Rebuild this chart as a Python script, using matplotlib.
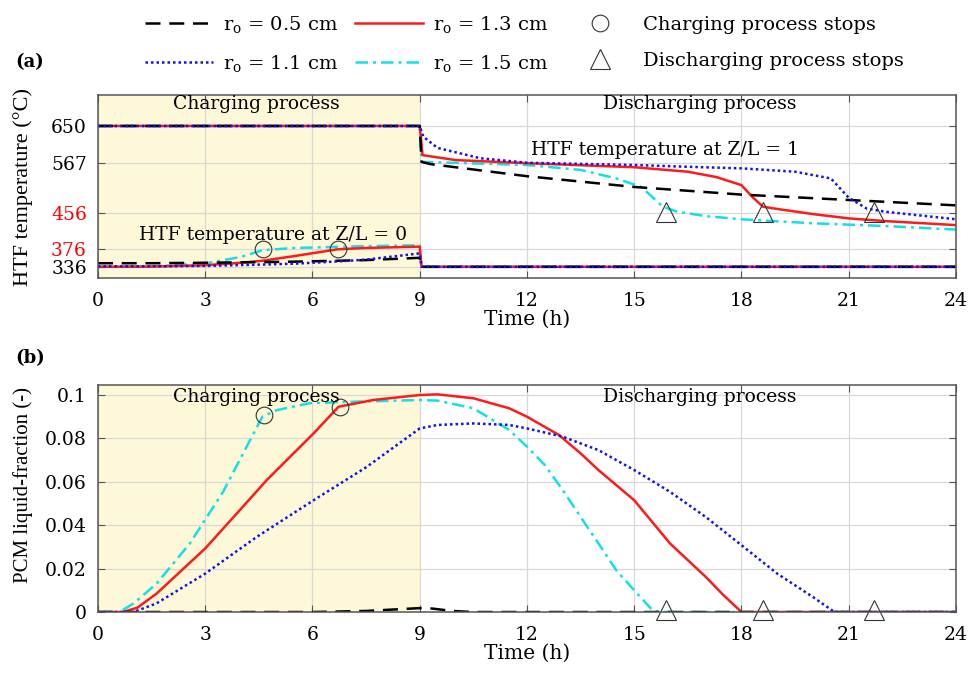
import matplotlib
matplotlib.use("Agg")
import matplotlib.pyplot as plt
from matplotlib.lines import Line2D

# fonts: wide serif for horizontal text, times-like for the y labels
plt.rcParams["font.family"] = ["DejaVu Serif"]
plt.rcParams["mathtext.fontset"] = "dejavuserif"

# series labels / styles
RADII = ["0.5", "1.1", "1.3", "1.5"]
COLOURS = {"0.5": "black", "1.1": "#1010f0", "1.3": "#ff1a1a", "1.5": "#12e0e6"}
STYLES = {"0.5": (0, (6, 3.5)), "1.1": (0, (1, 1.2)), "1.3": "-", "1.5": (0, (5, 2, 1.2, 2))}
DRAW_ORDER = ["1.5", "1.3", "0.5", "1.1"]

# (a) HTF temperature
T_INLET_CHARGE = 650
T_INLET_DISCHARGE = 336
CHG_TIME = [0, 1.5, 3, 4, 4.6, 5.5, 6.7, 7.5, 9]
CHG_TEMP = {
    "0.5": [344, 344, 345, 346, 346.5, 347.5, 349.5, 351, 356],
    "1.1": [337, 337, 338, 340, 341, 343, 348, 352, 366],
    "1.3": [336, 336.5, 339.5, 345, 349.5, 360, 375, 378, 381],
    "1.5": [336, 337, 343.5, 358, 373, 378, 380.5, 382, 384],
}
DIS_TIME = {
    "0.5": [9, 9.05, 9.3, 12, 15, 18, 21, 24],
    "1.1": [9, 9.1, 9.5, 10.7, 12, 15, 16.5, 18, 19.5, 20.5, 21, 21.5, 22, 24],
    "1.3": [9, 9.08, 10, 12, 15, 16.5, 17.3, 18, 18.3, 18.6, 19, 20, 21, 22, 24],
    "1.5": [9, 9.05, 12, 13.5, 14.5, 15.2, 15.5, 15.8, 16.2, 17, 18, 20, 22, 24],
}
DIS_TEMP = {
    "0.5": [650, 570, 565, 538, 514, 497, 485, 473],
    "1.1": [650, 626, 601, 578, 568, 563, 559, 555.5, 548, 533, 490, 466, 459, 442],
    "1.3": [650, 585, 574, 567, 558, 548, 536, 518, 492, 470, 465, 453.5, 444, 438, 429],
    "1.5": [650, 570, 563, 552, 533, 514, 492, 470, 459, 449, 442, 433, 427, 419],
}
TOP_CIRCLE_T = [4.62, 6.72]
TOP_CIRCLE_Y = [375, 375]
TOP_TRI_T = [15.9, 18.6, 21.7]
TOP_TRI_Y = [459, 459, 459]
TOP_YTICKS = [336, 376, 456, 567, 650]
RED_TICKS = [376, 456]

# (b) PCM liquid fraction
PCM_TIME = {
    "0.5": [0, 6, 7.5, 9, 9.35, 9.9, 10.5, 24],
    "1.1": [0, 1.0, 1.64, 3, 4.44, 6.03, 7.52, 9, 9.5, 10.5, 11.5, 12, 13, 14, 15, 16,
            17, 18, 19, 20, 20.6, 24],
    "1.3": [0, 0.7, 1.1, 1.64, 3, 3.97, 4.72, 5.37, 6.03, 6.73, 7.7, 9, 9.5, 10.5, 11.5,
            12, 12.9, 13.5, 14, 15, 16, 17, 17.5, 18, 24],
    "1.5": [0, 0.6, 1.0, 1.64, 2.57, 3.5, 4.06, 4.6, 5.0, 5.9, 7.2, 9, 9.5, 10.5, 11.5,
            12, 12.5, 13, 13.5, 14, 14.5, 15, 15.5, 15.7, 24],
}
PCM_FRAC = {
    "0.5": [0, 0, 0.0005, 0.0018, 0.0016, 0.0005, 0, 0],
    "1.1": [0, 0, 0.004, 0.0177, 0.0346, 0.0515, 0.0669, 0.0846, 0.0862, 0.0869, 0.0862,
            0.0846, 0.0808, 0.0746, 0.0654, 0.0554, 0.0438, 0.0308, 0.0177, 0.0069, 0, 0],
    "1.3": [0, 0, 0.002, 0.0085, 0.0293, 0.047, 0.0608, 0.0715, 0.0823, 0.0946, 0.0977,
            0.1, 0.1003, 0.0985, 0.0939, 0.090, 0.0815, 0.0731, 0.0654, 0.0515, 0.0316,
            0.0162, 0.0077, 0, 0],
    "1.5": [0, 0, 0.004, 0.0131, 0.0316, 0.0554, 0.0731, 0.090, 0.093, 0.0962, 0.0969,
            0.0977, 0.0974, 0.0939, 0.0839, 0.0762, 0.0677, 0.0562, 0.0438, 0.0316,
            0.0192, 0.010, 0.001, 0, 0],
}
BOT_CIRCLE_T = [4.64, 6.77]
BOT_CIRCLE_Y = [0.0907, 0.0946]
BOT_TRI_T = [15.9, 18.6, 21.7]
BOT_TRI_Y = [0.0008, 0.0008, 0.0008]
BOT_YTICKS = [0, 0.02, 0.04, 0.06, 0.08, 0.1]
BOT_YTICKLABELS = ["0", "0.02", "0.04", "0.06", "0.08", "0.1"]

XTICKS = list(range(0, 25, 3))
SHADE = "#fdf9d8"
GRID = "#d8d8d8"
SPINE = "#555555"
LW = 1.8


def style_axes(ax):
    ax.set_xlim(0, 24)
    ax.set_xticks(XTICKS)
    ax.axvspan(0, 9, color=SHADE, zorder=0, lw=0)
    ax.grid(True, color=GRID, lw=0.9, zorder=0.5)
    ax.set_axisbelow(True)
    ax.tick_params(direction="in", length=5, top=True, right=True, color=SPINE,
                   labelsize=13.5, pad=8)
    ax.tick_params(axis="x", pad=10)
    for sp in ax.spines.values():
        sp.set_color(SPINE)
        sp.set_linewidth(1.1)
    ax.set_xlabel("Time (h)", fontsize=14.5, labelpad=0)


fig = plt.figure(figsize=(9.68, 6.73), dpi=100)
ax1 = fig.add_axes([0.1012, 0.5869, 0.8864, 0.2719])
ax2 = fig.add_axes([0.1012, 0.0906, 0.8864, 0.3373])

# ---- (a) ----
style_axes(ax1)
for r in DRAW_ORDER:
    kw = dict(color=COLOURS[r], ls=STYLES[r], lw=LW)
    # upper line: charging inlet then discharging outlet
    ax1.plot([0] + DIS_TIME[r], [T_INLET_CHARGE] + DIS_TEMP[r], **kw)
    # lower line: charging outlet then discharging inlet
    ax1.plot(CHG_TIME + [9.05, 24], CHG_TEMP[r] + [T_INLET_DISCHARGE] * 2, **kw)
ax1.plot(TOP_CIRCLE_T, TOP_CIRCLE_Y, "o", ms=12, mfc="none", mec="#333333", mew=0.8)
ax1.plot(TOP_TRI_T, TOP_TRI_Y, "^", ms=14, mfc="none", mec="#333333", mew=0.8)
ax1.set_ylim(311, 719)
ax1.set_yticks(TOP_YTICKS)
for lab, v in zip(ax1.get_yticklabels(), TOP_YTICKS):
    if v in RED_TICKS:
        lab.set_color("red")
ax1.set_ylabel("HTF temperature (°C)", family="Liberation Serif", fontsize=16)
ax1.yaxis.set_label_coords(-0.076, 0.5)
ax1.text(4.42, 0.951, "Charging process", transform=ax1.get_xaxis_transform(),
         ha="center", va="center", fontsize=13.5)
ax1.text(16.83, 0.951, "Discharging process", transform=ax1.get_xaxis_transform(),
         ha="center", va="center", fontsize=13.5)
ax1.text(15.87, 596, "HTF temperature at Z/L = 1", ha="center", va="center", fontsize=13.5)
ax1.text(4.9, 407, "HTF temperature at Z/L = 0", ha="center", va="center", fontsize=13.5)

# ---- (b) ----
style_axes(ax2)
for r in DRAW_ORDER:
    ax2.plot(PCM_TIME[r], PCM_FRAC[r], color=COLOURS[r], ls=STYLES[r], lw=LW)
ax2.plot(BOT_CIRCLE_T, BOT_CIRCLE_Y, "o", ms=12, mfc="none", mec="#333333", mew=0.8)
ax2.plot(BOT_TRI_T, BOT_TRI_Y, "^", ms=14, mfc="none", mec="#333333", mew=0.8,
         clip_on=False)
ax2.set_ylim(0, 0.1046)
ax2.set_yticks(BOT_YTICKS)
ax2.set_yticklabels(BOT_YTICKLABELS)
ax2.set_ylabel("PCM liquid-fraction (-)", family="Liberation Serif", fontsize=15)
ax2.yaxis.set_label_coords(-0.076, 0.56)
ax2.text(4.42, 0.0992, "Charging process", ha="center", va="center", fontsize=13.5)
ax2.text(16.83, 0.0992, "Discharging process", ha="center", va="center", fontsize=13.5)

# panel letters
fig.text(15 / 968, 1 - 62 / 673, "(a)", fontweight="bold", fontsize=13, va="center")
fig.text(15 / 968, 1 - 358 / 673, "(b)", fontweight="bold", fontsize=13, va="center")

# legend on top
handles = [Line2D([], [], color=COLOURS[r], ls=STYLES[r], lw=LW) for r in RADII]
labels = [r"r$_\mathregular{o}$ = %s cm" % r for r in RADII]
handles += [Line2D([], [], ls="none", marker="o", ms=12, mfc="none", mec="#333333", mew=0.8),
            Line2D([], [], ls="none", marker="^", ms=14, mfc="none", mec="#333333", mew=0.8)]
labels += ["Charging process stops", "Discharging process stops"]
fig.legend(handles, labels, ncol=3, loc="upper left", bbox_to_anchor=(145 / 968, 1 - 14 / 673),
           frameon=False, handlelength=3.5, handletextpad=0.5, columnspacing=0.9,
           labelspacing=0.9, borderpad=0, borderaxespad=0, fontsize=14)

fig.savefig("out.png", dpi=100)
